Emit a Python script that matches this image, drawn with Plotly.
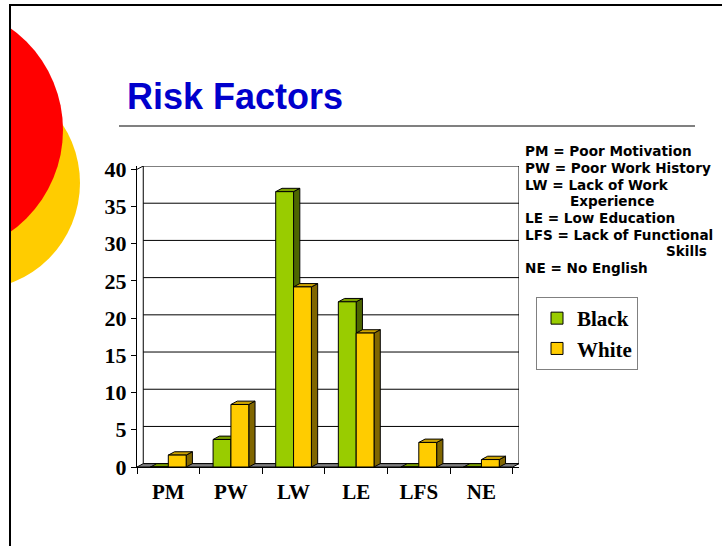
import plotly.graph_objects as go

# ---- data -------------------------------------------------------------
categories = ["PM", "PW", "LW", "LE", "LFS", "NE"]
black_vals = [0, 3.7, 37, 22.2, 0, 0]
white_vals = [1.6, 8.4, 24.2, 18, 3.3, 1.0]
y_ticks = [0, 5, 10, 15, 20, 25, 30, 35, 40]
notes = [
    "PM = Poor Motivation",
    "PW = Poor Work History",
    "LW = Lack of Work",
    "Experience",
    "LE = Low Education",
    "LFS = Lack of Functional",
    "Skills",
    "NE = No English",
]

# ---- styling ----------------------------------------------------------
W, H = 722, 546
GREEN, GREEN_SIDE, GREEN_TOP = "#99CC00", "#4D6600", "#7A9E00"
YELLOW, YELLOW_SIDE, YELLOW_TOP = "#FFCC00", "#806600", "#CCA300"
DX, DY = 0.1, 0.45          # depth of the 3-D extrusion (category units, value units)
BAR_W = 0.285
Y_MAX = y_ticks[-1]
SERIF = "Liberation Serif"


def px(x):
    return x / W


def py(y):
    return 1 - y / H


x_idx = list(range(len(categories)))
x_lo, x_hi = -0.5, len(categories) - 0.5

fig = go.Figure()

series = [
    ("Black", black_vals, -BAR_W, GREEN, GREEN_SIDE, GREEN_TOP),
    ("White", white_vals, 0.0, YELLOW, YELLOW_SIDE, YELLOW_TOP),
]

shapes = []

# page decoration: circles, border, title rule
shapes.append(dict(type="circle", xref="paper", yref="paper", layer="below",
                   x0=px(-27 - 107), x1=px(-27 + 107), y0=py(183 + 107), y1=py(183 - 107),
                   fillcolor="#FFCC00", line=dict(width=0)))
shapes.append(dict(type="circle", xref="paper", yref="paper", layer="below",
                   x0=px(-62 - 125), x1=px(-62 + 125), y0=py(130 + 125), y1=py(130 - 125),
                   fillcolor="#FF0000", line=dict(width=0)))
shapes.append(dict(type="rect", xref="paper", yref="paper", layer="below",
                   x0=0, x1=px(10), y0=0, y1=1, fillcolor="white", line=dict(width=0)))
shapes.append(dict(type="line", xref="paper", yref="paper", layer="below",
                   x0=px(10), x1=px(10), y0=py(4), y1=0, line=dict(color="black", width=2)))
shapes.append(dict(type="line", xref="paper", yref="paper", layer="below",
                   x0=px(9), x1=1, y0=py(5), y1=py(5), line=dict(color="black", width=2)))
shapes.append(dict(type="line", xref="paper", yref="paper", layer="below",
                   x0=px(119), x1=px(695), y0=py(126), y1=py(126), line=dict(color="#808080", width=2)))

# back wall, grid and floor
shapes.append(dict(type="rect", xref="x", yref="y", layer="below",
                   x0=x_lo + DX, x1=x_hi + DX, y0=DY, y1=Y_MAX + DY,
                   fillcolor="white", line=dict(color="black", width=1)))
for t in y_ticks[1:-1]:
    shapes.append(dict(type="line", xref="x", yref="y", layer="below",
                       x0=x_lo + DX, x1=x_hi + DX, y0=t + DY, y1=t + DY,
                       line=dict(color="black", width=1)))
shapes.append(dict(type="line", xref="x", yref="y", layer="below",
                   x0=x_lo, x1=x_lo + DX, y0=Y_MAX, y1=Y_MAX + DY,
                   line=dict(color="black", width=1)))
shapes.append(dict(type="path", xref="x", yref="y", layer="below",
                   path=f"M {x_lo},0 L {x_hi},0 L {x_hi + DX},{DY} L {x_lo + DX},{DY} Z",
                   fillcolor="#808080", line=dict(color="black", width=1)))

# side and top faces of each bar
for name, vals, off, front, side, top in series:
    for i, v in zip(x_idx, vals):
        x0 = i + off
        x1 = x0 + BAR_W
        shapes.append(dict(type="path", xref="x", yref="y", layer="below",
                           path=f"M {x1},0 L {x1},{v} L {x1 + DX},{v + DY} L {x1 + DX},{DY} Z",
                           fillcolor=side, line=dict(color="black", width=1)))
        shapes.append(dict(type="path", xref="x", yref="y", layer="below",
                           path=f"M {x0},{v} L {x0 + DX},{v + DY} L {x1 + DX},{v + DY} L {x1},{v} Z",
                           fillcolor=top, line=dict(color="black", width=1)))

# front faces
for name, vals, off, front, side, top in series:
    fig.add_trace(go.Bar(
        x=x_idx, y=vals, name=name, width=BAR_W, offset=off,
        marker=dict(color=front, line=dict(color="black", width=1)),
        hoverinfo="skip",
    ))

annotations = [dict(
    text="Risk Factors", xref="paper", yref="paper", x=px(125), y=py(96),
    xanchor="left", yanchor="middle", showarrow=False,
    font=dict(family="Liberation Sans", size=36, color="#0000CC", weight="bold"),
)]
note_x = [523, 523, 523, 568, 523, 523, 664, 523]
for k, (txt, nx) in enumerate(zip(notes, note_x)):
    annotations.append(dict(
        text=txt, xref="paper", yref="paper", x=px(nx), y=py(151 + 16.75 * k),
        xanchor="left", yanchor="middle", showarrow=False,
        font=dict(family="DejaVu Sans", size=13.6, color="black", weight="bold"),
    ))

fig.update_layout(
    width=W, height=H,
    margin=dict(l=0, r=0, t=0, b=0, autoexpand=False),
    paper_bgcolor="white", plot_bgcolor="white",
    barmode="overlay",
    shapes=shapes,
    annotations=annotations,
    showlegend=True,
    legend=dict(
        x=px(536), y=py(297), xanchor="left", yanchor="top",
        bgcolor="white", bordercolor="#808080", borderwidth=1,
        font=dict(family=SERIF, size=21, color="black", weight="bold"),
        traceorder="normal",
    ),
    xaxis=dict(
        domain=[px(137), px(519)],
        range=[x_lo, x_hi + DX],
        tickvals=x_idx, ticktext=categories, ticks="",
        ticklabelstandoff=6,
        tickfont=dict(family=SERIF, size=21, color="black", weight="bold"),
        showgrid=False, zeroline=False,
        showline=True, linecolor="black", linewidth=1,
        minor=dict(tickvals=[x_lo + k for k in range(len(categories) + 1)],
                   ticks="outside", ticklen=6, tickcolor="black", showgrid=False),
        automargin=False,
        fixedrange=True,
    ),
    yaxis=dict(
        domain=[py(467), py(166)],
        range=[0, Y_MAX + DY],
        tickvals=y_ticks, ticks="outside", ticklen=5, tickcolor="black",
        tickfont=dict(family=SERIF, size=22, color="black", weight="bold"),
        showgrid=False, zeroline=False,
        showline=True, linecolor="black", linewidth=1,
        automargin=False,
        fixedrange=True,
    ),
)

fig.write_html("out.html")
